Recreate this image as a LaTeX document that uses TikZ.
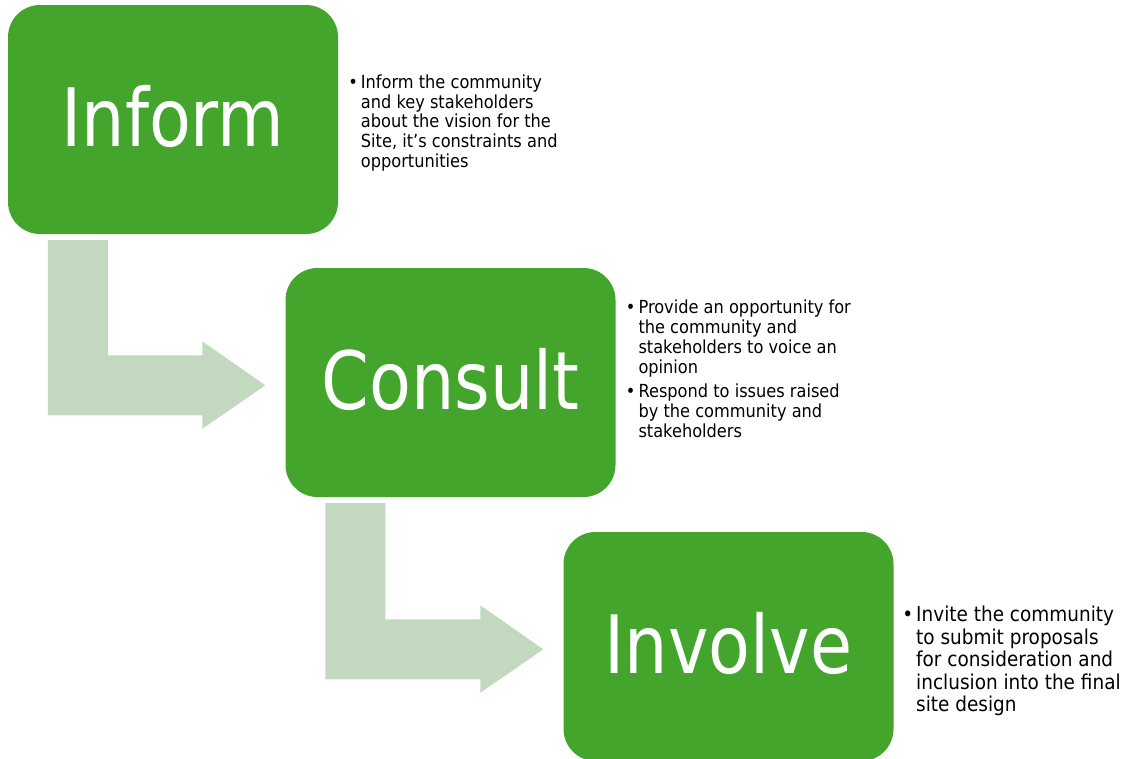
\documentclass[tikz,border=0pt]{standalone}
\usepackage{fontspec}
\setmainfont[FakeStretch=0.9]{DejaVu Sans}
\newfontfamily\stagefont[FakeStretch=0.85]{DejaVu Sans}
\usepackage{tikz}
\usetikzlibrary{calc, positioning}

\definecolor{stagegreen}{HTML}{43A52C}
\definecolor{bendgreen}{HTML}{C2D9BF}

% bent arrow from the bottom of one stage to the left side of the next
\newcommand\bendarrow[2]{%
  \fill[bendfill] let \p1=(#1.south west), \p2=(#2.north west) in
    (\x1+40pt,\y1-6pt) -- (\x1+100pt,\y1-6pt) -- (\x1+100pt,\y2-87.5pt)
    -- (\x2-83pt,\y2-87.5pt) -- (\x2-83pt,\y2-73.5pt) -- (\x2-20pt,\y2-117.5pt)
    -- (\x2-83pt,\y2-161pt) -- (\x2-83pt,\y2-147.5pt) -- (\x1+40pt,\y2-147.5pt) -- cycle;
}
\newcommand\dotitem{\llap{\textbullet\hspace{3pt}}}

\begin{document}
\begin{tikzpicture}[x=1pt, y=-1pt,
    stage/.style={fill=stagegreen, rounded corners=32pt, minimum width=330pt,
      minimum height=229pt, inner sep=0pt, text=white, text depth=7pt,
      font=\stagefont\fontsize{80.5}{90}\selectfont},
    notes/.style={anchor=base west, align=left, inner sep=0pt,
      font=\fontsize{18}{19.8}\selectfont},
    bignotes/.style={notes, font=\fontsize{20.5}{22.5}\selectfont},
    bendfill/.style={fill=bendgreen}]
  \useasboundingbox (0,0) rectangle (1132,758);

  \node[stage] (inform) at (173,119.5) {Inform};
  \node[stage] (consult) at (450.5,382.5) {Consult};
  \node[stage] (involve) at (728.5,646.5) {Involve};

  \bendarrow{inform}{consult}
  \bendarrow{consult}{involve}

  % base anchor sits on the last line
  \node[notes] (informnotes) at (360.7,167.5) {\dotitem Inform the community\\
    and key stakeholders\\ about the vision for the\\
    Site, it’s constraints and\\ opportunities};
  \node[notes] (consultnotes) at (638.3,437.5) {\dotitem Provide an opportunity for\\
    the community and\\ stakeholders to voice an\\ opinion\\[4.9pt]
    \dotitem Respond to issues raised\\ by the community and\\ stakeholders};
  \node[bignotes] (involvenotes) at (916,711.7) {\dotitem Invite the community\\
    to submit proposals\\ for consideration and\\
    inclusion into the final\\ site design};
\end{tikzpicture}
\end{document}
